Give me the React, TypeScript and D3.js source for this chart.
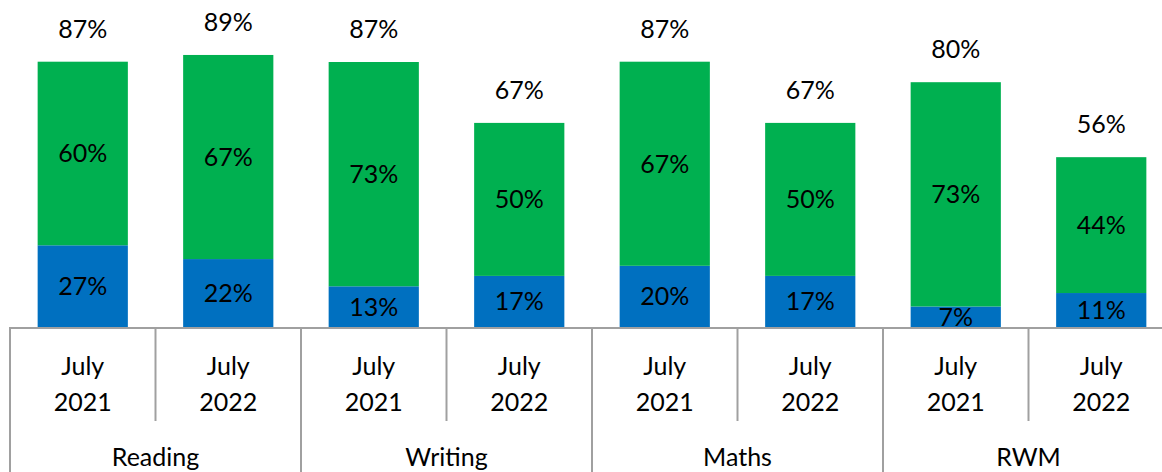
import React from "react";
import * as d3 from "d3";

const groups = ["Reading", "Writing", "Maths", "RWM"];
const periods = ["July 2021", "July 2022"];
const expectedOnly = [60.0, 66.7, 73.3, 50.0, 66.7, 50.0, 73.3, 44.4];
const greaterDepth = [26.7, 22.2, 13.3, 16.7, 20.0, 16.7, 6.7, 11.1];

const W = 1162;
const H = 472;
const BLUE = "#0070C0";
const GREEN = "#00B050";
const AXIS = "#A0A0A0";
const FONT = "Lato, 'Open Sans', sans-serif";

export default function App() {
  const cats = groups.flatMap((g) => periods.map((p) => `${g}|${p}`));
  const step = 145.5;
  const left = 10;
  const x = d3
    .scaleBand<string>()
    .domain(cats)
    .range([left, left + step * cats.length])
    .paddingInner(0.38)
    .paddingOuter(0.19);
  const y = d3.scaleLinear().domain([0, 100]).range([327, 21]);
  const base = y(0);
  const gap = (x.step() - x.bandwidth()) / 2;
  const fs = 25;
  const fmt = (v: number) => `${Math.round(v)}%`;

  return (
    <svg
      width={W}
      height={H}
      style={{ position: "absolute", left: 0, top: 0, background: "#fff" }}
      fontFamily={FONT}
    >
      {cats.map((c, i) => {
        const bx = x(c)!;
        const bw = x.bandwidth();
        const b = greaterDepth[i];
        const e = expectedOnly[i];
        const total = b + e;
        const cx = bx + bw / 2;
        return (
          <g key={c}>
            <rect x={bx} y={y(b)} width={bw} height={base - y(b)} fill={BLUE} />
            <rect x={bx} y={y(b + e)} width={bw} height={y(b) - y(b + e)} fill={GREEN} />
            <text x={cx} y={(y(b) + base) / 2 + 9} textAnchor="middle" fontSize={fs} fill="#000">
              {fmt(b)}
            </text>
            <text x={cx} y={(y(b + e) + y(b)) / 2 + 9} textAnchor="middle" fontSize={fs} fill="#000">
              {fmt(e)}
            </text>
            <text x={cx} y={y(total) - 24} textAnchor="middle" fontSize={fs} fill="#000">
              {fmt(total)}
            </text>
            <text x={cx} y={375} textAnchor="middle" fontSize={fs} fill="#000">
              {c.split("|")[1].split(" ")[0]}
            </text>
            <text x={cx} y={411} textAnchor="middle" fontSize={fs} fill="#000">
              {c.split("|")[1].split(" ")[1]}
            </text>
          </g>
        );
      })}
      {cats.map((c, i) => {
        const bx = x(c)! - gap;
        const full = i % 2 === 0;
        return (
          <line
            key={"sep" + c}
            x1={bx}
            x2={bx}
            y1={base + 1}
            y2={full ? H : 421}
            stroke={AXIS}
            strokeWidth={2}
          />
        );
      })}
      {groups.map((g, gi) => {
        const x0 = x(cats[gi * 2])! - gap;
        const x1 = x(cats[gi * 2 + 1])! + x.bandwidth() + gap;
        return (
          <text key={g} x={(x0 + x1) / 2} y={466} textAnchor="middle" fontSize={fs} fill="#000">
            {g}
          </text>
        );
      })}
      <line x1={left - 1} x2={W} y1={base + 1} y2={base + 1} stroke={AXIS} strokeWidth={2} />
    </svg>
  );
}
